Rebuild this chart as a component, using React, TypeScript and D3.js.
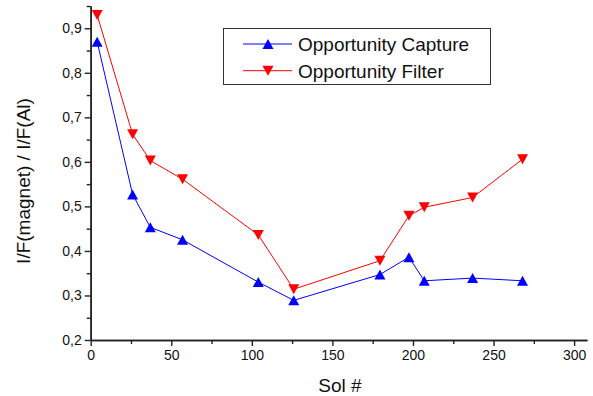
import * as d3 from 'd3'
import { useEffect, useRef } from 'react'

// Sol numbers shared by both series
const sols = [4, 26, 37, 57, 104, 126, 179.5, 197.5, 207, 237, 268]
const captureValues = [0.87, 0.527, 0.453, 0.425, 0.33, 0.289, 0.347, 0.386, 0.333, 0.339, 0.333]
const filterValues = [0.93, 0.662, 0.603, 0.561, 0.436, 0.314, 0.378, 0.479, 0.498, 0.52, 0.606]
const seriesNames = ['Opportunity Capture', 'Opportunity Filter']
const xMajorTicks = [0, 50, 100, 150, 200, 250, 300]
const xMinorTicks = [25, 75, 125, 175, 225, 275]
const yMajorTicks = [0.2, 0.3, 0.4, 0.5, 0.6, 0.7, 0.8, 0.9]
const yMinorTicks = [0.25, 0.35, 0.45, 0.55, 0.65, 0.75, 0.85, 0.95]

const W = 593, H = 396
const FONT = 'Liberation Sans, Arial, Helvetica, sans-serif'

const triUp = (w: number, h: number) => `M0,${-h / 2}L${w / 2},${h / 2}L${-w / 2},${h / 2}Z`
const triDown = (w: number, h: number) => `M0,${h / 2}L${w / 2},${-h / 2}L${-w / 2},${-h / 2}Z`

export default function App() {
  const ref = useRef<SVGSVGElement | null>(null)

  useEffect(() => {
    if (!ref.current) return
    const svg = d3.select(ref.current)
    svg.selectAll('*').remove()

    const x = d3.scaleLinear().domain([0, 308]).range([90.7, 587])
    const y = d3.scaleLinear().domain([0.2, 0.95]).range([340, 6])
    const fmt = (v: number) => d3.format('.1f')(v).replace('.', ',')

    // y axis
    const yMajor = svg.append('g').attr('transform', `translate(${x(0)},0)`)
      .call(d3.axisLeft(y).tickValues(yMajorTicks).tickFormat(d => fmt(d as number)).tickSize(6).tickSizeOuter(0).tickPadding(3))
    const yMinor = svg.append('g').attr('transform', `translate(${x(0)},0)`)
      .call(d3.axisLeft(y).tickValues(yMinorTicks).tickFormat(() => '').tickSize(4).tickSizeOuter(0))
    // x axis
    const xMajor = svg.append('g').attr('transform', `translate(0,${y(0.2)})`)
      .call(d3.axisBottom(x).tickValues(xMajorTicks).tickFormat(d => String(d)).tickSize(6).tickSizeOuter(0).tickPadding(4))
    const xMinor = svg.append('g').attr('transform', `translate(0,${y(0.2)})`)
      .call(d3.axisBottom(x).tickValues(xMinorTicks).tickFormat(() => '').tickSize(4).tickSizeOuter(0))

    for (const g of [yMajor, yMinor, xMajor, xMinor]) {
      g.selectAll('path').attr('stroke', '#222').attr('stroke-width', 1.6)
      g.selectAll('line').attr('stroke', '#222').attr('stroke-width', 1.4)
      g.selectAll('text').attr('font-family', FONT).attr('font-size', 14).attr('fill', '#111')
    }

    const series = [
      { values: captureValues, color: '#0000ff', marker: triUp(11, 10) },
      { values: filterValues, color: '#ff0000', marker: triDown(11, 10) },
    ]
    const line = d3.line<number>().x((_, i) => x(sols[i]))

    for (const s of series) {
      svg.append('path')
        .datum(s.values)
        .attr('d', line.y(d => y(d)))
        .attr('fill', 'none').attr('stroke', s.color).attr('stroke-width', 1)
      svg.append('g').selectAll('path').data(s.values).enter().append('path')
        .attr('d', s.marker)
        .attr('transform', (d, i) => `translate(${x(sols[i])},${y(d)})`)
        .attr('fill', s.color)
    }

    // axis titles
    svg.append('text').attr('x', 340).attr('y', 392).attr('text-anchor', 'middle')
      .attr('font-family', FONT).attr('font-size', 19).attr('fill', '#111').text('Sol #')
    svg.append('text').attr('transform', 'translate(30,181) rotate(-90)').attr('text-anchor', 'middle')
      .attr('font-family', FONT).attr('font-size', 19).attr('fill', '#111').text('I/F(magnet) / I/F(Al)')

    // legend
    const lg = svg.append('g')
    lg.append('rect').attr('x', 223.5).attr('y', 28.5).attr('width', 267).attr('height', 56)
      .attr('fill', 'white').attr('stroke', '#333').attr('stroke-width', 1)
    series.forEach((s, i) => {
      const cy = 44 + i * 26.7
      lg.append('line').attr('x1', 243).attr('x2', 292).attr('y1', cy).attr('y2', cy)
        .attr('stroke', s.color).attr('stroke-width', 1)
      lg.append('path').attr('d', s.marker).attr('transform', `translate(268,${cy})`).attr('fill', s.color)
      lg.append('text').attr('x', 298).attr('y', cy + 7).attr('font-family', FONT).attr('font-size', 19)
        .attr('fill', '#111').text(seriesNames[i])
    })
  }, [])

  return (
    <div style={{ position: 'fixed', left: 0, top: 0, background: 'white' }}>
      <svg ref={ref} width={W} height={H} style={{ display: 'block' }} />
    </div>
  )
}
